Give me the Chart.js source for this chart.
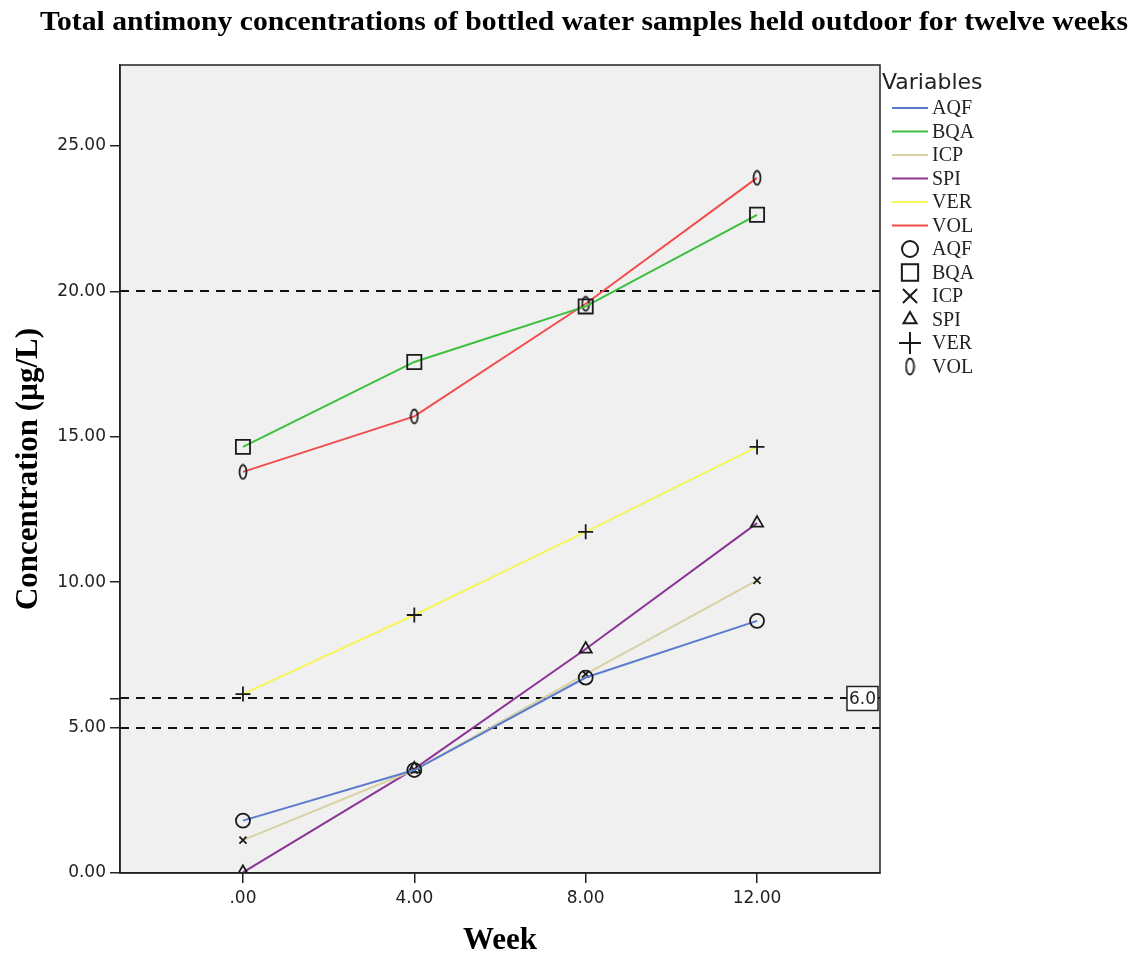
<!DOCTYPE html>
<html>
<head>
<meta charset="utf-8">
<script src="https://cdn.jsdelivr.net/npm/chart.js@4.4.1/dist/chart.umd.min.js"></script>
<style>
  html, body { margin: 0; background: #fff; }
</style>
</head>
<body>
<canvas id="chart" width="1132" height="956"></canvas>
<script>
// data
const weeks = [0, 4, 8, 12];
const seriesNames = ["AQF", "BQA", "ICP", "SPI", "VER", "VOL"];
const aqf = [1.80, 3.54, 6.72, 8.67];
const bqa = [14.65, 17.57, 19.48, 22.63];
const icp = [1.13, 3.54, 6.84, 10.06];
const spi = [0.02, 3.58, 7.70, 12.03];
const ver = [6.15, 8.87, 11.73, 14.65];
const vol = [13.79, 15.70, 19.57, 23.90];
const refLines = [20, 6, 5];
const refLabel = { value: 6, text: "6.0" };
const xTicks = [0, 4, 8, 12];
const yTicks = [0, 5, 10, 15, 20, 25];

const lineColors = ["#5b7bcc", "#3cbf3c", "#d8d2a2", "#8c3496", "#f6f65c", "#f24c4c"];
const titleText = "Total antimony concentrations of bottled water samples held outdoor for twelve weeks";

// the little "0" marker used for VOL
function zeroMarker(w, h) {
    const c = document.createElement("canvas");
    c.width = w; c.height = h;
    const g = c.getContext("2d");
    g.strokeStyle = "#222";
    g.lineWidth = 1.8;
    g.beginPath();
    g.ellipse(w / 2, h / 2, w / 2 - 1.5, h / 2 - 1.5, 0, 0, Math.PI * 2);
    g.stroke();
    return c;
}
const volMark = zeroMarker(10, 17);
const volMarkLegend = zeroMarker(11, 19);

const markers = [
    { style: "circle", r: 7 },
    { style: "rect", r: 10 },
    { style: "crossRot", r: 5 },
    { style: "triangle", r: 7 },
    { style: "cross", r: 7.5 },
    { style: volMark, r: 8 }
];
const legendMarkers = [
    { style: "circle", r: 8 },
    { style: "rect", r: 11.5 },
    { style: "crossRot", r: 10 },
    { style: "triangle", r: 7.5 },
    { style: "cross", r: 11 },
    { style: volMarkLegend, r: 9 }
];

const values = [aqf, bqa, icp, spi, ver, vol];

const datasets = seriesNames.map((name, i) => ({
    label: name,
    data: weeks.map((w, j) => ({ x: w, y: values[i][j] })),
    borderColor: lineColors[i],
    borderWidth: 2,
    pointStyle: markers[i].style,
    pointRadius: markers[i].r,
    pointHoverRadius: markers[i].r,
    pointBorderColor: "#1a1a1a",
    pointBackgroundColor: "rgba(0,0,0,0)",
    pointBorderWidth: 1.8,
    tension: 0
}));

const decor = {
    id: "decor",
    beforeDraw(chart) {
        const { ctx, chartArea: a } = chart;
        ctx.save();
        ctx.fillStyle = "#f0f0f0";
        ctx.fillRect(a.left, a.top, a.right - a.left, a.bottom - a.top);
        ctx.restore();
    },
    beforeDatasetsDraw(chart) {
        const { ctx, chartArea: a, scales } = chart;
        ctx.save();
        ctx.strokeStyle = "#111";
        ctx.lineWidth = 2;
        ctx.setLineDash([9, 7]);
        refLines.forEach(v => {
            const y = Math.round(scales.y.getPixelForValue(v));
            ctx.beginPath();
            ctx.moveTo(a.left, y);
            ctx.lineTo(a.right, y);
            ctx.stroke();
        });
        ctx.restore();
    },
    afterDraw(chart) {
        const { ctx, chartArea: a, scales } = chart;
        ctx.save();
        // plot frame
        ctx.strokeStyle = "#222";
        ctx.lineWidth = 1.5;
        ctx.strokeRect(a.left, a.top, a.right - a.left, a.bottom - a.top);

        // reference line label
        const ly = scales.y.getPixelForValue(refLabel.value);
        ctx.font = "17px 'DejaVu Sans'";
        const tw = ctx.measureText(refLabel.text).width;
        const bx = a.right - tw - 6, bw = tw + 4;
        ctx.fillStyle = "#fff";
        ctx.fillRect(bx, ly - 12, bw, 24);
        ctx.strokeStyle = "#222";
        ctx.lineWidth = 1.5;
        ctx.strokeRect(bx, ly - 12, bw, 24);
        ctx.fillStyle = "#222";
        ctx.textBaseline = "middle";
        ctx.textAlign = "left";
        ctx.fillText(refLabel.text, bx + 2, ly + 1);

        // title, stretched a little to the width it has in the reference
        ctx.font = "bold 28px 'Liberation Serif'";
        ctx.textAlign = "center";
        ctx.fillStyle = "#000";
        const tWidth = ctx.measureText(titleText).width;
        const sx = 1088 / tWidth;
        ctx.save();
        ctx.translate(584, 23);
        ctx.scale(sx, 1);
        ctx.fillText(titleText, 0, 0);
        ctx.restore();

        // legend
        const lx = 882;
        ctx.textAlign = "left";
        ctx.font = "22px 'DejaVu Sans'";
        ctx.fillStyle = "#222";
        ctx.fillText("Variables", lx, 83);
        ctx.font = "20px 'Liberation Serif'";
        let y = 108;
        const step = 23.5;
        seriesNames.forEach((name, i) => {
            ctx.strokeStyle = lineColors[i];
            ctx.lineWidth = 2;
            ctx.beginPath();
            ctx.moveTo(lx + 10, y);
            ctx.lineTo(lx + 46, y);
            ctx.stroke();
            ctx.fillStyle = "#222";
            ctx.fillText(name, lx + 50, y + 1);
            y += step;
        });
        seriesNames.forEach((name, i) => {
            ctx.strokeStyle = "#1a1a1a";
            ctx.fillStyle = "rgba(0,0,0,0)";
            Chart.helpers.drawPoint(ctx, {
                pointStyle: legendMarkers[i].style,
                radius: legendMarkers[i].r,
                rotation: 0,
                borderWidth: 1.8
            }, lx + 28, y);
            ctx.fillStyle = "#222";
            ctx.fillText(name, lx + 50, y + 1);
            y += step;
        });
        ctx.restore();
    }
};

new Chart(document.getElementById("chart"), {
    type: "line",
    data: { datasets },
    options: {
        responsive: false,
        animation: false,
        devicePixelRatio: 1,
        layout: { padding: { top: 65, right: 252, left: 0, bottom: 0 } },
        plugins: {
            legend: { display: false },
            tooltip: { enabled: false },
            title: { display: false }
        },
        scales: {
            x: {
                type: "linear",
                min: -2.87,
                max: 14.87,
                afterBuildTicks: s => { s.ticks = xTicks.map(v => ({ value: v })); },
                afterFit: s => { s.height = 83; },
                ticks: {
                    callback: v => v === 0 ? ".00" : v.toFixed(2),
                    font: { family: "DejaVu Sans", size: 17 },
                    color: "#222",
                    padding: 5
                },
                grid: { drawOnChartArea: false, tickLength: 10, color: "#222", lineWidth: 1.5 },
                border: { color: "#222", width: 1.5 },
                title: {
                    display: true,
                    text: "Week",
                    font: { family: "Liberation Serif", size: 31, weight: "bold" },
                    color: "#000",
                    padding: { top: 0, bottom: -4 }
                }
            },
            y: {
                type: "linear",
                min: 0,
                max: 27.78,
                afterBuildTicks: s => {
                    s.ticks = yTicks.concat([6]).sort((a, b) => a - b).map(v => ({ value: v }));
                },
                afterFit: s => { s.width = 120; },
                ticks: {
                    callback: v => v === 6 ? "" : v.toFixed(2),
                    font: { family: "DejaVu Sans", size: 17 },
                    color: "#222",
                    padding: 4
                },
                grid: { drawOnChartArea: false, tickLength: 10, color: "#222", lineWidth: 1.5 },
                border: { color: "#222", width: 1.5 },
                title: {
                    display: true,
                    text: "Concentration (µg/L)",
                    font: { family: "Liberation Serif", size: 31, weight: "bold" },
                    color: "#000",
                    padding: { top: 10, bottom: 0 }
                }
            }
        }
    },
    plugins: [decor]
});
</script>
</body>
</html>
